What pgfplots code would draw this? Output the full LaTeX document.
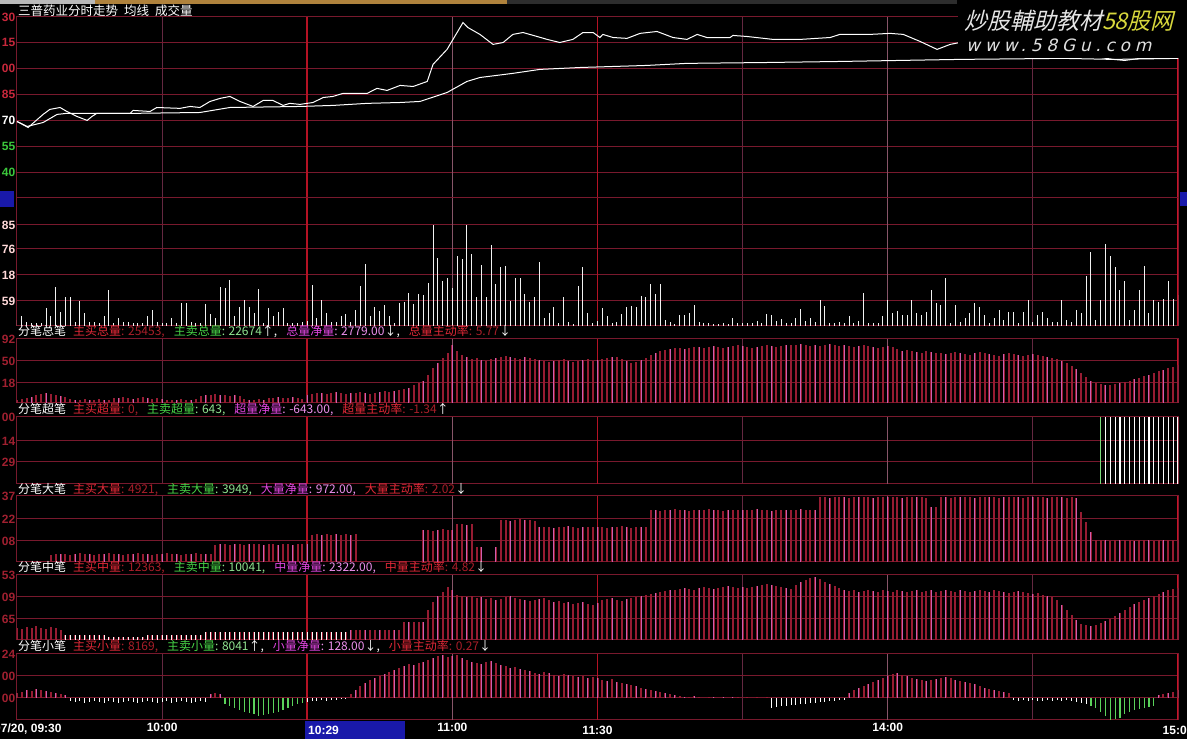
\documentclass[border=0pt]{standalone}
\usepackage{pgfplots}
\pgfplotsset{compat=1.18}
\usepackage{pgfplotstable}
\usepackage{fontspec}
\setmainfont{Liberation Sans}
\newfontfamily\cjk{Noto Sans CJK SC}
\newfontfamily\wmcjk[FakeSlant=0.25]{Noto Sans CJK SC}
\newfontfamily\wmlat[FakeSlant=0.25,LetterSpace=28]{DejaVu Sans}
\definecolor{gridred}{RGB}{120,25,45}
\definecolor{brightred}{RGB}{200,20,40}
\definecolor{vgrid}{RGB}{100,40,65}
\definecolor{vlight}{RGB}{135,85,105}
\definecolor{barred}{RGB}{150,28,50}
\definecolor{barpink}{RGB}{205,95,175}
\definecolor{bargreen}{RGB}{90,210,90}
\definecolor{hred}{RGB}{225,40,55}
\definecolor{hgreen}{RGB}{70,210,70}
\definecolor{hmag}{RGB}{225,70,225}
\definecolor{lblred}{RGB}{200,40,60}
\definecolor{lblgreen}{RGB}{60,200,60}
\definecolor{gold}{RGB}{175,130,60}
\definecolor{navy}{RGB}{25,25,170}
\definecolor{wmyellow}{RGB}{215,215,60}

\pgfplotstableread[row sep=\\]{v\\
6\\10\\4\\3\\3\\3\\18\\10\\39\\14\\
29\\29\\4\\25\\13\\4\\4\\3\\10\\36\\
3\\8\\4\\4\\3\\3\\3\\10\\16\\4\\
3\\3\\8\\3\\23\\23\\4\\3\\3\\22\\
12\\8\\39\\38\\46\\10\\19\\26\\19\\13\\
37\\3\\18\\10\\14\\18\\3\\3\\3\\4\\
5\\41\\8\\26\\13\\4\\4\\10\\12\\4\\
16\\40\\62\\10\\19\\15\\21\\10\\3\\23\\
24\\33\\22\\32\\31\\43\\101\\68\\45\\48\\
38\\70\\67\\101\\72\\29\\61\\29\\81\\42\\
59\\60\\25\\48\\48\\32\\24\\29\\64\\8\\
13\\19\\3\\29\\4\\2\\40\\59\\13\\3\\
5\\18\\10\\3\\4\\12\\19\\20\\19\\30\\
29\\42\\32\\42\\6\\4\\2\\11\\11\\13\\
21\\4\\3\\3\\2\\2\\3\\2\\8\\3\\
3\\3\\3\\5\\3\\12\\11\\5\\7\\3\\
3\\8\\17\\5\\8\\4\\26\\20\\3\\3\\
4\\3\\10\\3\\5\\33\\3\\3\\3\\10\\
26\\13\\15\\11\\11\\26\\13\\11\\14\\36\\
23\\21\\48\\3\\21\\4\\8\\13\\23\\19\\
11\\3\\8\\16\\6\\14\\14\\3\\14\\26\\
4\\11\\14\\8\\4\\4\\26\\6\\4\\16\\
13\\50\\74\\6\\26\\82\\70\\59\\36\\45\\
6\\16\\36\\60\\13\\26\\24\\27\\45\\27\\
31\\}\tvol

\pgfplotstableread[row sep=\\]{v\\
3\\4\\5\\6\\8\\9\\10\\9\\8\\7\\
6\\4\\3\\3\\4\\3\\3\\4\\3\\3\\
5\\5\\6\\5\\4\\5\\6\\5\\4\\5\\
4\\3\\3\\3\\4\\3\\3\\4\\7\\8\\
8\\9\\8\\8\\7\\8\\7\\4\\3\\3\\
4\\3\\5\\5\\6\\5\\5\\6\\5\\4\\
8\\9\\10\\10\\9\\10\\11\\10\\9\\10\\
10\\11\\10\\9\\10\\11\\12\\11\\12\\13\\
14\\15\\18\\20\\22\\28\\35\\40\\45\\50\\
58\\52\\48\\46\\44\\45\\43\\42\\44\\45\\
46\\47\\46\\45\\44\\46\\45\\44\\43\\42\\
41\\42\\43\\44\\42\\41\\42\\43\\44\\42\\
43\\44\\45\\46\\46\\44\\42\\40\\41\\43\\
45\\48\\50\\52\\53\\54\\55\\55\\54\\55\\
56\\56\\55\\56\\57\\56\\55\\56\\57\\58\\
57\\56\\55\\56\\57\\58\\57\\56\\57\\58\\
58\\58\\59\\58\\57\\58\\57\\58\\59\\58\\
57\\58\\57\\56\\57\\58\\57\\56\\55\\56\\
57\\56\\54\\52\\53\\52\\51\\50\\52\\51\\
50\\50\\49\\50\\51\\50\\49\\48\\50\\51\\
50\\49\\48\\47\\49\\50\\49\\48\\47\\48\\
49\\48\\47\\46\\45\\44\\42\\40\\37\\34\\
30\\26\\22\\20\\19\\18\\18\\19\\20\\21\\
22\\24\\25\\27\\28\\30\\32\\33\\35\\36\\
38\\}\ttot

\pgfplotstableread[row sep=\\]{v\\
0\\0\\0\\0\\0\\0\\0\\7\\8\\8\\
8\\7\\8\\9\\8\\8\\7\\8\\8\\9\\
8\\8\\7\\8\\8\\9\\8\\8\\7\\8\\
8\\9\\8\\8\\7\\8\\8\\9\\8\\8\\
8\\17\\18\\18\\17\\18\\18\\17\\18\\18\\
18\\17\\18\\18\\17\\18\\18\\17\\18\\18\\
18\\27\\28\\27\\28\\27\\28\\27\\28\\27\\
28\\0\\0\\0\\0\\0\\0\\0\\0\\0\\
0\\0\\0\\0\\32\\32\\31\\32\\33\\32\\
32\\38\\38\\37\\38\\15\\15\\0\\0\\15\\
42\\42\\41\\42\\43\\42\\42\\41\\35\\35\\
35\\34\\35\\35\\36\\35\\34\\35\\35\\35\\
35\\35\\34\\35\\35\\36\\35\\34\\35\\35\\
35\\52\\52\\51\\52\\52\\53\\52\\52\\51\\
52\\52\\52\\53\\52\\52\\51\\52\\52\\52\\
52\\52\\52\\53\\52\\52\\51\\52\\52\\52\\
52\\52\\53\\52\\52\\52\\65\\65\\64\\65\\
65\\65\\64\\65\\65\\65\\65\\64\\65\\65\\
65\\65\\65\\64\\65\\65\\65\\65\\64\\55\\
55\\65\\65\\64\\65\\65\\65\\65\\64\\65\\
65\\65\\65\\64\\65\\65\\65\\65\\64\\65\\
65\\65\\65\\64\\65\\65\\65\\64\\65\\64\\
50\\40\\30\\22\\22\\22\\21\\22\\22\\22\\
22\\21\\22\\22\\22\\21\\22\\22\\22\\22\\
22\\}\tbig

\pgfplotstableread[row sep=\\]{v\\
12\\11\\13\\12\\14\\12\\11\\13\\12\\10\\
5\\5\\5\\5\\5\\5\\5\\5\\5\\3\\
3\\3\\3\\3\\3\\3\\3\\5\\5\\5\\
5\\5\\5\\5\\5\\5\\5\\5\\5\\8\\
8\\8\\8\\8\\8\\8\\8\\8\\8\\8\\
8\\8\\8\\8\\8\\8\\8\\8\\8\\8\\
8\\8\\8\\8\\8\\8\\8\\8\\8\\10\\
10\\10\\10\\10\\10\\10\\10\\10\\10\\10\\
18\\18\\18\\18\\18\\30\\38\\44\\48\\53\\
50\\45\\44\\43\\44\\42\\43\\41\\42\\40\\
41\\43\\44\\42\\41\\40\\39\\40\\41\\42\\
40\\38\\39\\37\\38\\36\\37\\38\\36\\35\\
37\\40\\41\\42\\40\\39\\41\\42\\43\\44\\
45\\46\\47\\48\\49\\50\\50\\51\\52\\51\\
50\\52\\53\\52\\51\\52\\53\\54\\53\\52\\
53\\52\\53\\54\\55\\56\\55\\54\\53\\52\\
51\\55\\58\\60\\62\\63\\61\\58\\56\\54\\
52\\50\\49\\50\\48\\49\\50\\49\\48\\50\\
49\\48\\50\\49\\48\\49\\50\\48\\49\\50\\
48\\49\\50\\49\\48\\50\\49\\48\\49\\50\\
49\\48\\50\\49\\48\\47\\48\\49\\48\\47\\
46\\47\\45\\44\\43\\40\\35\\30\\25\\20\\
16\\15\\14\\15\\17\\19\\21\\24\\27\\30\\
33\\36\\38\\40\\42\\44\\46\\48\\50\\51\\
52\\}\tmid

\pgfplotstableread[row sep=\\]{v\\
5\\6\\8\\7\\9\\8\\7\\6\\5\\4\\
3\\-3\\-4\\-3\\-5\\-4\\-3\\-4\\-5\\-3\\
-4\\-5\\-4\\-3\\-4\\-5\\-4\\-3\\-4\\-5\\
-4\\-3\\-5\\-4\\-3\\-4\\-5\\-4\\-3\\-4\\
4\\5\\4\\-6\\-8\\-10\\-12\\-14\\-15\\-16\\
-18\\-17\\-16\\-15\\-14\\-12\\-10\\-8\\-6\\-5\\
-4\\-3\\-3\\-2\\-3\\-2\\-2\\-1\\-1\\4\\
8\\12\\15\\18\\20\\22\\24\\26\\28\\30\\
32\\34\\33\\35\\36\\38\\40\\42\\43\\41\\
42\\43\\40\\38\\36\\35\\34\\36\\37\\35\\
33\\32\\30\\31\\29\\28\\27\\25\\24\\26\\
25\\23\\22\\24\\23\\22\\21\\22\\20\\21\\
20\\18\\17\\19\\16\\15\\14\\13\\12\\10\\
9\\8\\7\\6\\5\\4\\3\\2\\1\\1\\
2\\1\\0\\1\\1\\0\\1\\0\\1\\1\\
0\\1\\0\\1\\0\\1\\-10\\-9\\-8\\-8\\
-7\\-7\\-6\\-6\\-5\\-5\\-4\\-4\\-3\\-3\\
-2\\-2\\5\\8\\10\\12\\14\\16\\18\\20\\
22\\24\\25\\23\\22\\20\\19\\18\\17\\18\\
19\\20\\21\\20\\18\\17\\16\\15\\14\\12\\
10\\9\\8\\7\\6\\5\\-2\\-3\\-2\\-3\\
-2\\-3\\-3\\-2\\-3\\-2\\-3\\-2\\-3\\-4\\
-5\\-6\\-8\\-10\\-14\\-18\\-22\\-21\\-20\\-16\\
-14\\-12\\-11\\-10\\-9\\-8\\3\\4\\5\\6\\
8\\}\tsml

\tikzset{vline/.style={brightred!90!black, line width=1.8pt},
         vlinel/.style={vlight, line width=0.9pt}}
\pgfplotsset{
  panel/.style={
    scale only axis, width=1161pt, xmin=0, xmax=240,
    axis line style={draw=gridred, line width=1pt},
    tick style={draw=none}, major tick length=0pt,
    xtick={30,90,150,180,210}, xticklabels={},
    grid=major,
    x grid style={vgrid, line width=0.8pt},
    y grid style={gridred, line width=1pt},
    yticklabel style={font=\bfseries\fontsize{12}{12}\selectfont, anchor=east, inner sep=0pt, xshift=-1.5pt, text=lblred!80!black},
  },
  rbar/.style={ycomb, barred, line width=2pt},
  pbar/.style={ycomb, barpink, line width=1pt},
}
\newcommand{\vlines}{%
  \draw[vlinel] (rel axis cs:0.375,0) -- (rel axis cs:0.375,1);
  \draw[vlinel] (rel axis cs:0.75,0) -- (rel axis cs:0.75,1);
  \draw[vline] (rel axis cs:0.25,0) -- (rel axis cs:0.25,1);
  \draw[vline] (rel axis cs:0.5,0) -- (rel axis cs:0.5,1);
  \draw[brightred, line width=1.2pt] (rel axis cs:1,0) -- (rel axis cs:1,1);}

\begin{document}
\begin{tikzpicture}[x=1pt,y=1pt]
\fill[black] (0,0) rectangle (1187,739);
\path[use as bounding box] (0,0) rectangle (1187,739);
% top strip
\fill[gray!55] (0,735) rectangle (95,739);
\fill[gold] (95,735) rectangle (507,739);
\fill[gray!35!black] (507,735) rectangle (957,739);
\node[anchor=west, inner sep=0, text=white, font=\cjk\fontsize{12.5}{13}\selectfont] at (18,728) {三普药业分时走势\hspace{6pt}均线\hspace{6pt}成交量};

% price panel
\begin{axis}[panel, at={(17pt,541pt)}, anchor=south west, height=181pt,
  ymin=9.25, ymax=10.30,
  ytick={9.25,9.40,9.55,9.85,10.00,10.15,10.30},
  yticklabels={{},\textcolor{lblgreen}{40},\textcolor{lblgreen}{55},\textcolor{lblred}{85},\textcolor{lblred}{00},\textcolor{lblred}{15},\textcolor{lblred}{30}},
  extra y ticks={9.70}, extra y tick labels={\textcolor{white}{70}},
  extra y tick style={major grid style={brightred, line width=2.5pt}}]
\vlines
\addplot[white, line width=1pt] coordinates {(0,9.694) (2.3,9.659) (5.4,9.735) (6.8,9.764) (8.9,9.775) (10.3,9.752) (12.4,9.723) (14.5,9.70) (15.5,9.723) (16.5,9.741) (23.4,9.741) (24,9.758) (27.5,9.752) (28.9,9.775) (33.7,9.77) (35.8,9.781) (37.8,9.775) (39.9,9.81) (42,9.828) (44,9.839) (46.1,9.81) (48.8,9.781) (50.9,9.816) (52.9,9.816) (55,9.787) (56.4,9.799) (58.5,9.793) (61.2,9.804) (63.3,9.833) (65.3,9.839) (67.4,9.857) (72.4,9.857) (74.4,9.886) (76.5,9.874) (79.2,9.903) (81.9,9.897) (84.8,9.926) (86,10.025) (88.9,10.112) (92.2,10.268) (93.2,10.239) (95.7,10.199) (98.4,10.141) (100.5,10.152) (102.5,10.199) (104.6,10.21) (107.5,10.187) (109.6,10.17) (112.2,10.152) (114.9,10.17) (117,10.21) (119.1,10.21) (120.5,10.181) (121.1,10.199) (123.2,10.181) (126.1,10.176) (128.8,10.205) (132.3,10.216) (135.6,10.181) (138.5,10.17) (140.6,10.199) (142.6,10.181) (147.4,10.181) (148,10.193) (150.9,10.187) (156.3,10.17) (161.9,10.17) (168.1,10.181) (170.1,10.199) (176.3,10.199) (180.5,10.205) (183.2,10.199) (186.7,10.158) (190.2,10.112) (192.9,10.141) (194.9,10.152) (199.1,10.158) (203.2,10.141) (211.5,10.112) (219.7,10.083) (226.6,10.054) (229,10.048) (232.1,10.06) (240,10.06)};
\addplot[white, line width=1pt] coordinates {(0,9.694) (2.1,9.665) (5.4,9.688) (8.3,9.735) (10.3,9.741) (17.2,9.741) (24,9.741) (37.8,9.746) (44,9.775) (58.5,9.781) (65.3,9.787) (72.4,9.799) (79.2,9.804) (83.3,9.81) (88.9,9.862) (93,9.926) (95.7,9.949) (102.5,9.973) (108.1,9.996) (116.4,10.007) (130.2,10.019) (138.5,10.031) (155,10.036) (170.1,10.042) (182.5,10.048) (194.9,10.054) (216.2,10.06) (226.6,10.054) (240,10.06)};
\end{axis}

% volume panel
\begin{axis}[panel, at={(17pt,413pt)}, anchor=south west, height=128pt,
  ymin=0, ymax=128, ytick={25,51,77}, yticklabels={59,18,76},
  yticklabel style={text=white!85!red},
  extra y ticks={101}, extra y tick labels={85},
  extra y tick style={major grid style={brightred, line width=2pt}}]
\vlines
\addplot[ycomb, white!90!gray, line width=1pt] table[x expr=\coordindex, y=v]{\tvol};
\end{axis}

% total
\begin{axis}[panel, at={(17pt,336pt)}, anchor=south west, height=64pt,
  ymin=0, ymax=64, ytick={20,42,64}, yticklabels={18,50,92}]
\vlines
\addplot[rbar] table[x expr=\coordindex, y=v]{\ttot};
\addplot[pbar, each nth point=3] table[x expr=\coordindex, y=v]{\ttot};
\end{axis}

% super
\begin{axis}[panel, at={(17pt,255pt)}, anchor=south west, height=67pt,
  ymin=0, ymax=67, ytick={22,43,67}, yticklabels={29,14,00}]
\vlines
\addplot[ycomb, bargreen!80!white, line width=1.2pt] coordinates {(224,67)};
\addplot[ycomb, white, line width=1.2pt] coordinates {(225,67) (226,67) (227,67) (228,67) (229,67) (230,67) (231,67) (232,67) (233,67) (234,67) (235,67) (236,67) (237,67) (238,67) (239,67) (240,67)};
\end{axis}

% big
\begin{axis}[panel, at={(17pt,177pt)}, anchor=south west, height=66pt,
  ymin=0, ymax=66, ytick={21,43,66}, yticklabels={08,22,37}]
\vlines
\addplot[rbar] table[x expr=\coordindex, y=v]{\tbig};
\addplot[pbar, each nth point=3] table[x expr=\coordindex, y=v]{\tbig};
\end{axis}

% mid
\begin{axis}[panel, at={(17pt,99pt)}, anchor=south west, height=65pt,
  ymin=0, ymax=65, ytick={21,43,65}, yticklabels={65,09,53}]
\vlines
\addplot[rbar] table[x expr=\coordindex, y=v]{\tmid};
\addplot[ycomb, white!85!pink, line width=1pt, restrict x to domain=10:68] table[x expr=\coordindex, y=v]{\tmid};
\addplot[pbar, each nth point=3, restrict x to domain=69:240] table[x expr=\coordindex, y=v]{\tmid};
\end{axis}

% small
\begin{axis}[panel, at={(17pt,19pt)}, anchor=south west, height=66pt,
  ymin=-22, ymax=44, ytick={0,22,44}, yticklabels={00,00,24},
  xtick={30,90,150,180,210}, xticklabels={10:00,11:00,,14:00,},
  extra x ticks={120,240}, extra x tick labels={11:30,15:00},
  xticklabel style={font=\bfseries\fontsize{12}{12}\selectfont, text=white, anchor=north, inner sep=0pt, yshift=-3pt},
  extra x tick style={grid=none, xticklabel style={font=\bfseries\fontsize{12}{12}\selectfont, text=white, anchor=north, inner sep=0pt, yshift=-3pt}}]
\vlines
\addplot[ycomb, white, line width=1pt] table[x expr=\coordindex, y=v]{\tsml};
\addplot[rbar, restrict y to domain=0.5:100] table[x expr=\coordindex, y=v]{\tsml};
\addplot[pbar, each nth point=2, restrict y to domain=0.5:100] table[x expr=\coordindex, y=v]{\tsml};
\addplot[ycomb, bargreen, line width=1.2pt, restrict x to domain=43:59] table[x expr=\coordindex, y=v]{\tsml};
\addplot[ycomb, bargreen, line width=1.2pt, restrict x to domain=222:235] table[x expr=\coordindex, y=v]{\tsml};
\end{axis}

% headers
\begin{scope}[every node/.style={anchor=west, inner sep=0, font=\cjk\fontsize{12}{12}\selectfont}]
\node at (18,407) {\textcolor{white}{分笔总笔}\hspace{7pt}\textcolor{hred}{主买总量}\textcolor{hred!75!black}{: 25453,}\hspace{9pt}\textcolor{hgreen}{主卖总量}\textcolor{hgreen!60!white}{: 22674}\textcolor{white}{↑,}\hspace{9pt}\textcolor{hmag}{总量净量}\textcolor{hmag!60!white}{: 2779.00}\textcolor{white}{↓,}\hspace{9pt}\textcolor{hred}{总量主动率}\textcolor{hred!75!black}{: 5.77}\textcolor{white}{↓}};
\node at (18,329) {\textcolor{white}{分笔超笔}\hspace{7pt}\textcolor{hred}{主买超量}\textcolor{hred!75!black}{: 0,}\hspace{9pt}\textcolor{hgreen}{主卖超量}\textcolor{hgreen!60!white}{: 643,}\hspace{9pt}\textcolor{hmag}{超量净量}\textcolor{hmag!60!white}{: -643.00,}\hspace{9pt}\textcolor{hred}{超量主动率}\textcolor{hred!75!black}{: -1.34}\textcolor{white}{↑}};
\node at (18,249) {\textcolor{white}{分笔大笔}\hspace{7pt}\textcolor{hred}{主买大量}\textcolor{hred!75!black}{: 4921,}\hspace{9pt}\textcolor{hgreen}{主卖大量}\textcolor{hgreen!60!white}{: 3949,}\hspace{9pt}\textcolor{hmag}{大量净量}\textcolor{hmag!60!white}{: 972.00,}\hspace{9pt}\textcolor{hred}{大量主动率}\textcolor{hred!75!black}{: 2.02}\textcolor{white}{↓}};
\node at (18,171) {\textcolor{white}{分笔中笔}\hspace{7pt}\textcolor{hred}{主买中量}\textcolor{hred!75!black}{: 12363,}\hspace{9pt}\textcolor{hgreen}{主卖中量}\textcolor{hgreen!60!white}{: 10041,}\hspace{9pt}\textcolor{hmag}{中量净量}\textcolor{hmag!60!white}{: 2322.00,}\hspace{9pt}\textcolor{hred}{中量主动率}\textcolor{hred!75!black}{: 4.82}\textcolor{white}{↓}};
\node at (18,92) {\textcolor{white}{分笔小笔}\hspace{7pt}\textcolor{hred}{主买小量}\textcolor{hred!75!black}{: 8169,}\hspace{9pt}\textcolor{hgreen}{主卖小量}\textcolor{hgreen!60!white}{: 8041}\textcolor{white}{↑,}\hspace{9pt}\textcolor{hmag}{小量净量}\textcolor{hmag!60!white}{: 128.00}\textcolor{white}{↓,}\hspace{9pt}\textcolor{hred}{小量主动率}\textcolor{hred!75!black}{: 0.27}\textcolor{white}{↓}};
\end{scope}

% left/right markers
\fill[navy] (0,532) rectangle (14,548);
\fill[navy] (1180,533) rectangle (1187,547);

% bottom time labels
\node[anchor=west, inner sep=0, text=white, font=\bfseries\fontsize{12}{12}\selectfont] at (-6,10) {07/20, 09:30};
\fill[navy] (305,0) rectangle (405,18);
\node[anchor=west, inner sep=0, text=white, font=\bfseries\fontsize{12}{12}\selectfont] at (308,9) {10:29};

% watermark
\fill[black] (958,681) rectangle (1180,734);
\node[anchor=west, inner sep=0, font=\wmcjk\fontsize{23}{23}\selectfont] at (964,718) {\textcolor{white!80!gray}{炒股輔助教材}\textcolor{wmyellow}{58股网}};
\node[anchor=west, inner sep=0, text=white!75!gray, font=\wmlat\fontsize{17}{17}\selectfont] at (966,694) {www.58Gu.com};
\end{tikzpicture}
\end{document}
